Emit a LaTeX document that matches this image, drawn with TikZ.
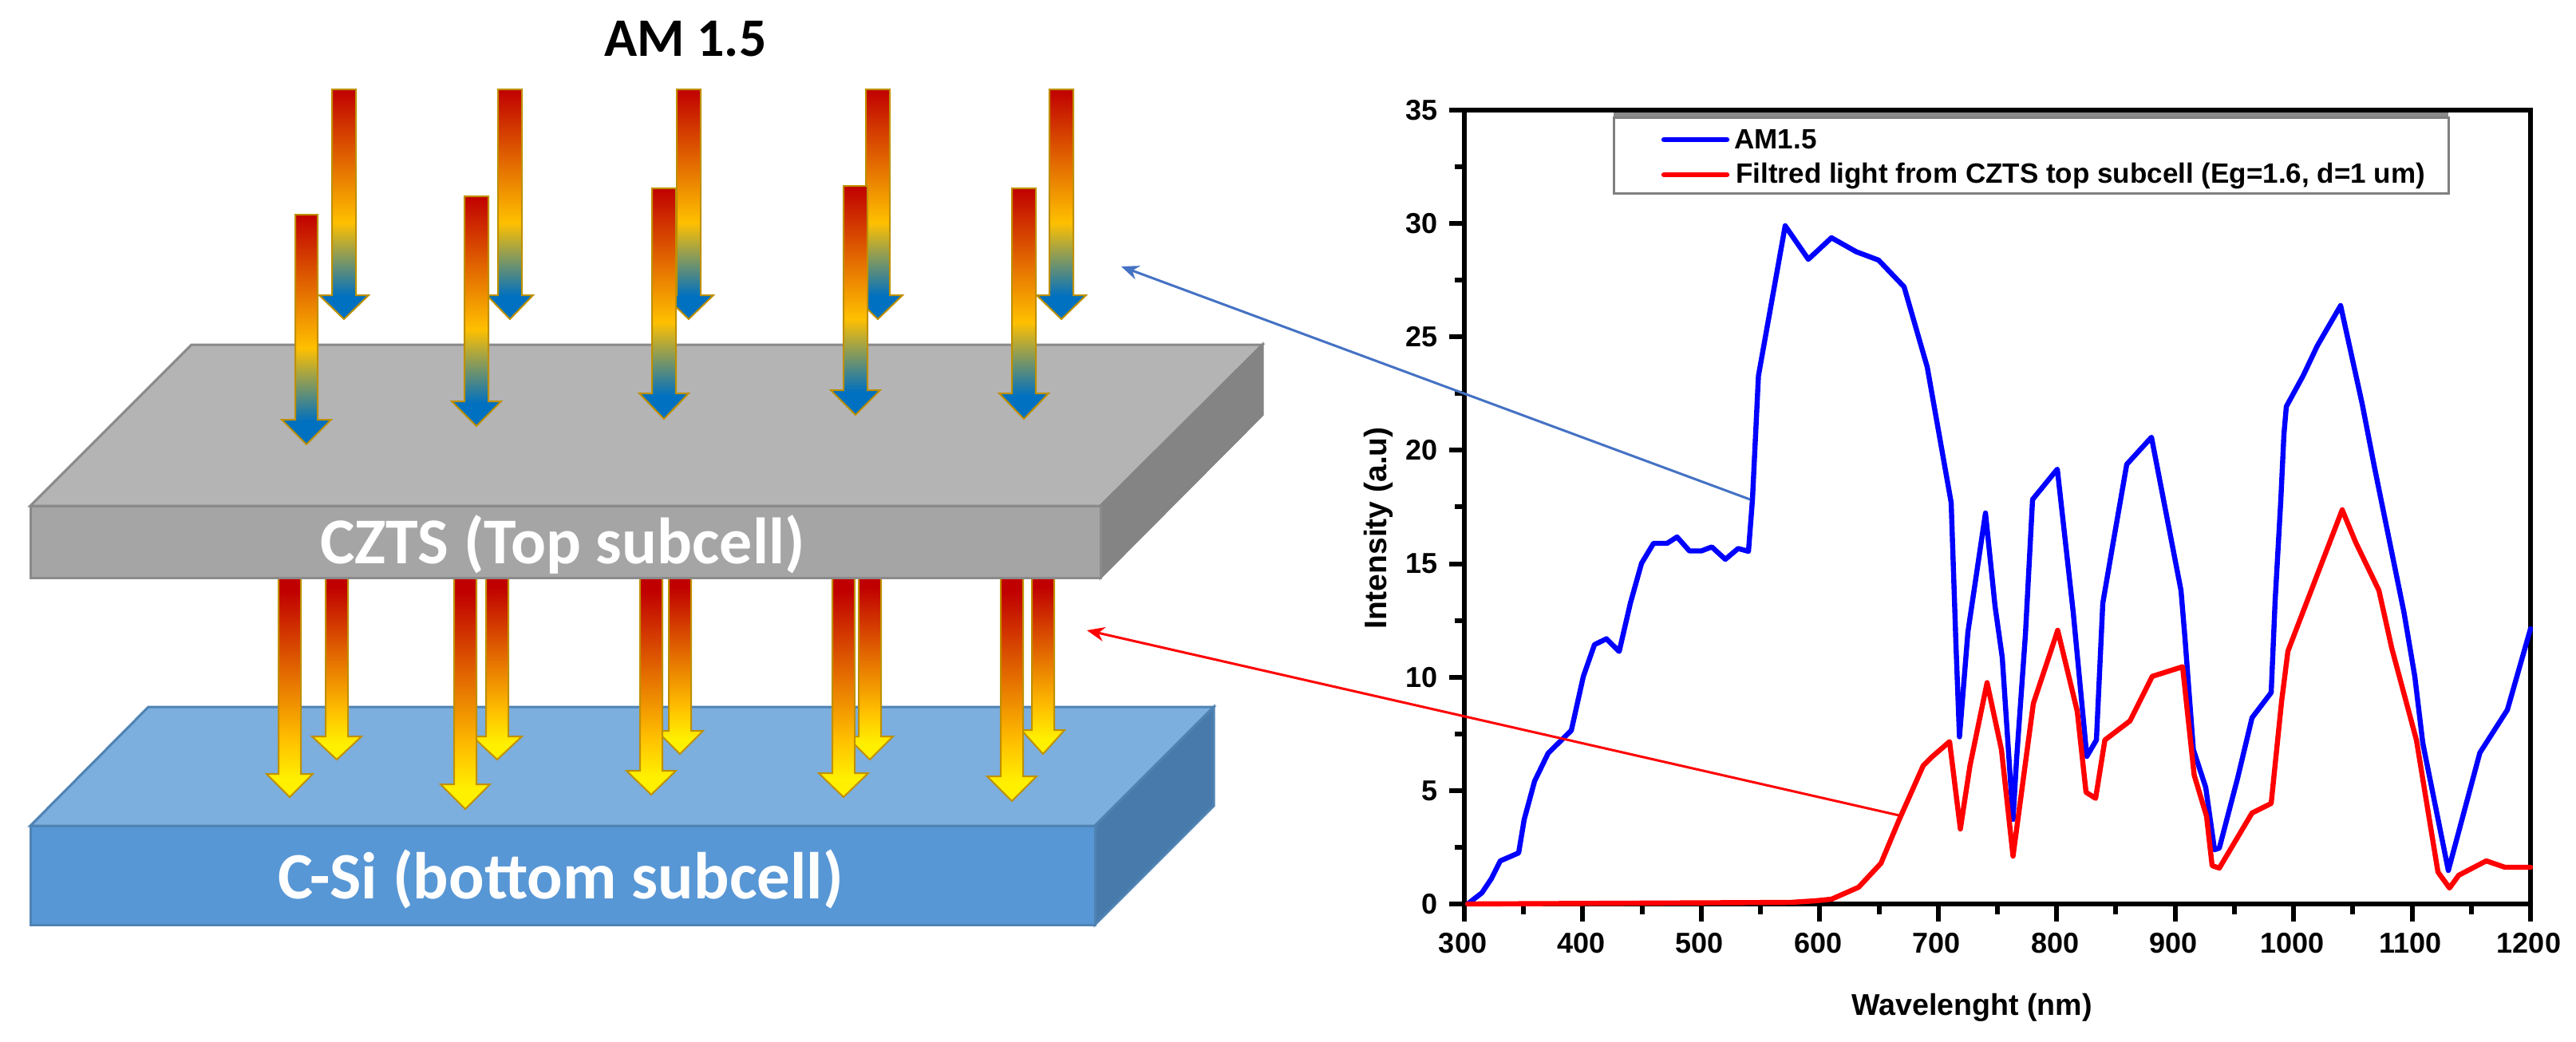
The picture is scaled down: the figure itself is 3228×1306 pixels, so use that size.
\documentclass[tikz,border=0pt]{standalone}
\usepackage{fontspec}
\setmainfont{Liberation Sans}
\newfontfamily\calib{Carlito}
\usetikzlibrary{arrows.meta}
\definecolor{sunred}{HTML}{C00000}
\definecolor{sunamber}{HTML}{FFC000}
\definecolor{sunblue}{HTML}{0070C0}
\definecolor{sunyellow}{HTML}{FFF000}
\definecolor{sungold}{HTML}{BF9000}
\definecolor{grayTop}{HTML}{B4B4B4}
\definecolor{grayFront}{HTML}{A5A5A5}
\definecolor{graySide}{HTML}{848484}
\definecolor{grayEdge}{HTML}{8A8A8A}
\definecolor{blueTop}{HTML}{7CAEDE}
\definecolor{blueFront}{HTML}{5897D5}
\definecolor{blueSide}{HTML}{487BAB}
\definecolor{blueEdge}{HTML}{4F83B4}
\definecolor{linkBlue}{HTML}{4472C4}
\definecolor{plotBlue}{HTML}{0000FF}
\definecolor{plotRed}{HTML}{FF0000}
\pgfdeclareverticalshading{rayblue}{100bp}{color(0bp)=(sunblue); color(30bp)=(sunblue); color(46bp)=(sunamber); color(75bp)=(sunred); color(100bp)=(sunred)}
\pgfdeclareverticalshading{rayyellow}{100bp}{color(0bp)=(sunyellow); color(29bp)=(sunyellow); color(37.5bp)=(sunamber); color(70bp)=(sunred); color(100bp)=(sunred)}
% x, top, head start, tip, shaft half width, head half width, shading
\newcommand{\rayarrow}[7]{%
  \shadedraw[shading=#7,draw=sungold,line width=1pt,line join=miter]
   ({#1-#5},#2) -- ({#1+#5},#2) -- ({#1+#5},#3) -- ({#1+#6},#3) -- (#1,#4)
   -- ({#1-#6},#3) -- ({#1-#5},#3) -- cycle;}
\tikzset{
  x=0.5pt,y=-0.5pt,
  slabedge/.style={line width=1.5pt,line join=miter},
  plotline/.style={line width=3.2pt,line join=round,line cap=round},
  axisline/.style={line width=3.3pt,black},
  majortick/.style={line width=3pt,black},
  minortick/.style={line width=3pt,black},
  ticktext/.style={inner sep=0pt,font=\fontsize{18}{20}\selectfont\bfseries},
  slabtext/.style={anchor=base,inner sep=0pt,text=white,font=\calib\fontsize{41}{44}\selectfont\bfseries},
  legendtext/.style={anchor=base west,inner sep=0pt,font=\fontsize{17.5}{20}\selectfont\bfseries},
}
\begin{document}
\begin{tikzpicture}
\useasboundingbox (0,0) rectangle (3228,1306);
\fill[white] (0,0) rectangle (3228,1306);
% bottom slab
\draw[slabedge,draw=blueEdge,fill=blueTop] (186,886) -- (1521,886) -- (1372,1035) -- (38,1035) -- cycle;
\draw[slabedge,draw=blueEdge,fill=blueSide] (1521,886) -- (1521,1010) -- (1372,1159) -- (1372,1035) -- cycle;
\draw[slabedge,draw=blueEdge,fill=blueFront] (38,1035) rectangle (1372,1159);
% filtered rays
\rayarrow{422}{712}{923}{952}{14}{31}{rayyellow}
\rayarrow{623}{712}{923}{952}{14}{31}{rayyellow}
\rayarrow{852}{712}{916}{945}{14}{29}{rayyellow}
\rayarrow{1090}{712}{923}{952}{14}{29}{rayyellow}
\rayarrow{1307}{712}{915}{945}{14}{27}{rayyellow}
\rayarrow{363}{712}{970}{999}{14}{29}{rayyellow}
\rayarrow{583}{712}{983}{1014}{14}{31}{rayyellow}
\rayarrow{816}{712}{966}{996}{14}{31}{rayyellow}
\rayarrow{1057}{712}{969}{999}{14}{31}{rayyellow}
\rayarrow{1268}{712}{973}{1004}{14}{31}{rayyellow}
% top slab
\draw[slabedge,draw=grayEdge,fill=grayTop] (240,432) -- (1582,432) -- (1379,634) -- (38,634) -- cycle;
\draw[slabedge,draw=graySide,fill=graySide] (1582,432) -- (1582,520) -- (1379,724) -- (1379,634) -- cycle;
\draw[slabedge,draw=grayEdge,fill=grayFront] (38,634) rectangle (1379,724);
% incident rays
\rayarrow{431}{112}{370}{400}{15}{31}{rayblue}
\rayarrow{639}{112}{370}{400}{15}{29}{rayblue}
\rayarrow{863}{112}{370}{400}{15}{31}{rayblue}
\rayarrow{1100}{112}{370}{400}{15}{31}{rayblue}
\rayarrow{1330}{112}{370}{400}{15}{31}{rayblue}
\rayarrow{384}{269}{526}{557}{14}{31}{rayblue}
\rayarrow{597}{246}{503}{534}{15}{31}{rayblue}
\rayarrow{832}{236}{493}{525}{15}{31}{rayblue}
\rayarrow{1072}{233}{489}{520}{15}{31}{rayblue}
\rayarrow{1283}{236}{493}{525}{15}{31}{rayblue}
% left texts
\node[anchor=base,inner sep=0pt,font=\calib\fontsize{34}{38}\selectfont\bfseries] (amtitle) at (859,70) {AM 1.5};
\node[slabtext] (czts) at (705,706) {CZTS (Top subcell)};
\node[slabtext,font=\calib\fontsize{41.5}{44}\selectfont\bfseries] (csi) at (703,1126) {C-Si (bottom subcell)};
% chart frame
\foreach \v in {0,5,...,35} \draw[majortick] (1816,{1133-\v*28.43}) -- (1835,{1133-\v*28.43});
\foreach \v in {2.5,7.5,...,32.5} \draw[minortick] (1823,{1133-\v*28.43}) -- (1835,{1133-\v*28.43});
\foreach \v in {300,400,...,1200} \draw[majortick] ({1835+(\v-300)*1.4844},1133) -- ({1835+(\v-300)*1.4844},1155);
\foreach \v in {350,450,...,1150} \draw[minortick] ({1835+(\v-300)*1.4844},1133) -- ({1835+(\v-300)*1.4844},1146);
\draw[axisline] (1816,138) -- (3171,138) -- (3171,1133) -- (1835,1133);
\draw[axisline] (1835,138) -- (1835,1133);
\foreach \v in {0,5,...,35} \node[ticktext,anchor=east] (ylab\v) at (1802,{1133-\v*28.43}) {\v};
\foreach \v in {300,400,...,1200} \node[ticktext,anchor=base] (xlab\v) at ({1833+(\v-300)*1.4844},1194) {\v};
\node[anchor=base,inner sep=0pt,font=\fontsize{18.8}{22}\selectfont\bfseries] (xtitle) at (2471,1272) {Wavelenght (nm)};
\node[anchor=base,rotate=90,inner sep=0pt,font=\fontsize{19.5}{22}\selectfont\bfseries] (ytitle) at (1737,662) {Intensity (a.u)};
% legend
\fill[grayEdge] (2022,141) rectangle (3068,148);
\draw[line width=1.5pt,draw=gray] (2022,147) rectangle (3068,242);
\draw[plotline,plotBlue] (2085,175) -- (2164,175);
\draw[plotline,plotRed] (2085,219) -- (2164,219);
\node[legendtext] (legA) at (2173,186) {AM1.5};
\node[legendtext] (legB) at (2175,229) {Filtred light from CZTS top subcell (Eg=1.6, d=1 um)};
% curves
\draw[plotline,plotBlue] (1839,1133) -- (1857,1119) -- (1869,1101) -- (1880,1079) -- (1903,1069) -- (1910,1027) -- (1923,979) -- (1940,944) -- (1969,915.5) -- (1984,848) -- (1998,808) -- (2013,800.6) -- (2029,816.5) -- (2043,756) -- (2057,706) -- (2072,681) -- (2089,681) -- (2101.5,673) -- (2117,690.5) -- (2132,690.5) -- (2145,685.5) -- (2162,701) -- (2178,687.5) -- (2191,691) -- (2196,626) -- (2203.5,471) -- (2237,283) -- (2266,325) -- (2295,298) -- (2326,315.5) -- (2354,326) -- (2386,359.5) -- (2415,460) -- (2445,630) -- (2449,748) -- (2451,808) -- (2455.4,923.5) -- (2466,792) -- (2488,643) -- (2500,760) -- (2509,824) -- (2522.5,1027) -- (2527,951) -- (2538,796) -- (2547,626) -- (2578,588) -- (2598,768) -- (2615,948) -- (2627,927.5) -- (2635,756) -- (2648,680) -- (2665,582) -- (2696,548) -- (2733,740) -- (2738,800) -- (2748.5,939.5) -- (2764,987) -- (2775,1065) -- (2781,1063) -- (2804,975) -- (2822,899.6) -- (2846,868) -- (2851,752) -- (2858,628) -- (2862,544) -- (2865,509.5) -- (2886,471) -- (2904,433) -- (2933,383) -- (2960,506) -- (2975.5,586) -- (3012.5,768) -- (3026,848) -- (3036,931.5) -- (3068,1091) -- (3107.5,943.5) -- (3142,889.6) -- (3171,788);
\draw[plotline,plotRed] (1839,1133) -- (2244,1131) -- (2275,1129) -- (2295,1127) -- (2329,1112) -- (2357,1082) -- (2380,1027) -- (2410,959.5) -- (2420,949.5) -- (2443,929.5) -- (2456.5,1039) -- (2468.6,959.5) -- (2490,855.6) -- (2508,939.5) -- (2522.5,1073) -- (2548,881.6) -- (2578.5,790) -- (2603,891.6) -- (2614,993) -- (2626,1000.6) -- (2637.6,927.5) -- (2669,903.6) -- (2697,847.7) -- (2735,835.7) -- (2749.5,971.4) -- (2765,1023) -- (2772,1085) -- (2781,1088) -- (2822,1019) -- (2846,1007) -- (2859,879.6) -- (2867,816) -- (2935,639) -- (2952,680) -- (2981,740) -- (2997,812) -- (3028,927.5) -- (3055,1093) -- (3069.5,1113) -- (3081,1097) -- (3115.5,1079) -- (3139,1087) -- (3171,1087);
% links from curves to the stacks
\coordinate (blueFrom) at (2193,626);
\coordinate (blueTo) at (1405,334);
\coordinate (redFrom) at (2382,1022.5);
\coordinate (redTo) at (1362,790);
\draw[linkBlue,line width=1.5pt,-{Stealth[length=11pt,width=9pt]}] (blueFrom) -- (blueTo);
\draw[plotRed,line width=1.5pt,-{Stealth[length=11pt,width=9pt]}] (redFrom) -- (redTo);
\end{tikzpicture}
\end{document}
